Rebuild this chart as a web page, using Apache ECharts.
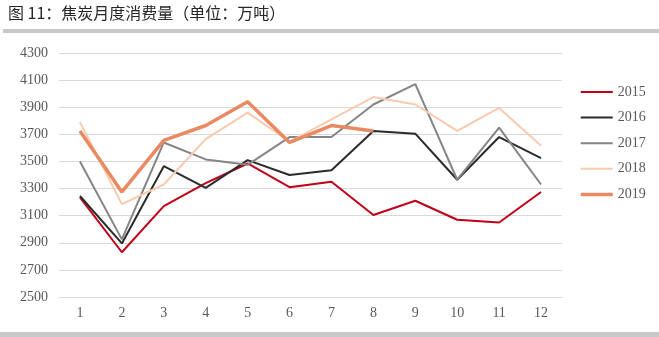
<!DOCTYPE html>
<html>
<head>
<meta charset="utf-8">
<script src="https://cdn.jsdelivr.net/npm/echarts@6/dist/echarts.min.js"></script>
<style>
  html, body { margin: 0; padding: 0; background: #fff; }
  #chart { width: 659px; height: 337px; }
</style>
</head>
<body>
<div id="chart"></div>
<script>
// Monthly coke consumption, 10k tonnes
const months = ['1', '2', '3', '4', '5', '6', '7', '8', '9', '10', '11', '12'];
const y2015 = [3235, 2830, 3170, 3340, 3485, 3310, 3350, 3105, 3210, 3070, 3050, 3275];
const y2016 = [3245, 2895, 3465, 3305, 3510, 3400, 3435, 3725, 3705, 3365, 3680, 3525];
const y2017 = [3500, 2925, 3640, 3515, 3475, 3680, 3680, 3920, 4070, 3365, 3750, 3330];
const y2018 = [3790, 3185, 3330, 3665, 3860, 3645, 3810, 3975, 3920, 3725, 3895, 3615];
const y2019 = [3725, 3275, 3655, 3765, 3940, 3640, 3765, 3725];
const yTicks = { min: 2500, max: 4300, step: 200 };

const seriesDefs = [
  { name: '2015', data: y2015, color: '#c00018', width: 2 },
  { name: '2016', data: y2016, color: '#2b2b2b', width: 2 },
  { name: '2017', data: y2017, color: '#858585', width: 2 },
  { name: '2018', data: y2018, color: '#f8cbb0', width: 2 },
  { name: '2019', data: y2019, color: '#e98a62', width: 3.5 }
];

const serif = '"Liberation Serif", "DejaVu Serif", serif';
const chart = echarts.init(document.getElementById('chart'), null, { renderer: 'canvas' });

chart.setOption({
  backgroundColor: '#ffffff',
  animation: false,
  graphic: [
    {
      type: 'text', left: 8, top: 5,
      style: {
        text: '图 11：焦炭月度消费量（单位：万吨）',
        font: '16px "Noto Sans CJK SC", sans-serif',
        fill: '#262626'
      }
    },
    { type: 'rect', left: 3, top: 29, shape: { width: 656, height: 4 }, style: { fill: '#c8c8c8' } },
    { type: 'rect', left: 0, top: 332, shape: { width: 659, height: 5 }, style: { fill: '#c8c8c8' } }
  ],
  grid: { left: 59, right: 97, top: 53, bottom: 40 },
  legend: {
    orient: 'vertical',
    left: 574,
    top: 80,
    itemWidth: 32,
    itemHeight: 14,
    itemGap: 11.6,
    lineStyle: { width: 'inherit' },
    itemStyle: { opacity: 0 },
    textStyle: { fontFamily: serif, fontSize: 14, color: '#595959' },
    data: seriesDefs.map(s => ({ name: s.name }))
  },
  xAxis: {
    type: 'category',
    data: months,
    boundaryGap: true,
    axisLine: { show: true, lineStyle: { color: '#d9d9d9', width: 1 } },
    axisTick: { show: false },
    axisLabel: { fontFamily: serif, fontSize: 14, color: '#595959', margin: 9 }
  },
  yAxis: {
    type: 'value',
    min: yTicks.min,
    max: yTicks.max,
    interval: yTicks.step,
    axisLine: { show: false },
    axisTick: { show: false },
    splitLine: { lineStyle: { color: '#d9d9d9', width: 1 } },
    axisLabel: {
      fontFamily: serif, fontSize: 14, color: '#595959', margin: 11,
      formatter: v => String(v)
    }
  },
  series: seriesDefs.map(s => ({
    name: s.name,
    type: 'line',
    data: s.data,
    symbol: 'none',
    smooth: false,
    color: s.color,
    lineStyle: { color: s.color, width: s.width },
    emphasis: { disabled: true }
  }))
});
</script>
</body>
</html>
